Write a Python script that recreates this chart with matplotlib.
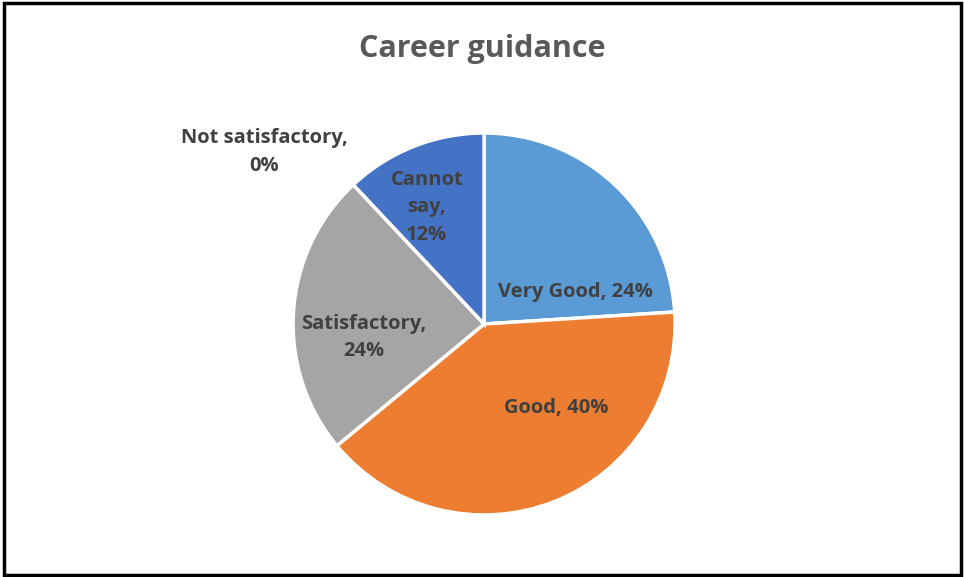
import matplotlib.pyplot as plt
from matplotlib.patches import Rectangle

categories = ["Very Good", "Good", "Satisfactory", "Not satisfactory", "Cannot say"]
values = [24, 40, 24, 0, 12]
colors = ["#5B9BD5", "#ED7D31", "#A5A5A5", "#FFC000", "#4472C4"]
label_text = ["Very Good, 24%", "Good, 40%", "Satisfactory,\n24%",
              "Not satisfactory,\n0%", "Cannot\nsay,\n12%"]
# label anchor points in pie units (radius = 1)
label_pos = [(0.48, 0.17), (0.38, -0.44), (-0.63, -0.07), (-1.15, 0.90), (-0.30, 0.61)]

plt.rcParams['font.family'] = ['Open Sans', 'DejaVu Sans']

fig = plt.figure(figsize=(9.64, 5.77), dpi=100)
ax = fig.add_axes([0.304, 0.1075, 0.3963, 0.662])
ax.pie(values, colors=colors, startangle=90, counterclock=False, radius=1,
       wedgeprops=dict(edgecolor="white", linewidth=2.5))
ax.set_xlim(-1, 1)
ax.set_ylim(-1, 1)
ax.set_aspect("equal")

for txt, (x, y) in zip(label_text, label_pos):
    ax.text(x, y, txt, ha="center", va="center", fontsize=14.5,
            fontweight="bold", color="#404040", linespacing=1.5)

fig.text(0.5, 0.915, "Career guidance", ha="center", va="center",
         fontsize=22, fontweight="bold", color="#595959")

fig.patches.append(Rectangle((0.004, 0.003), 0.993, 0.992, transform=fig.transFigure,
                             fill=False, edgecolor="black", linewidth=2.5))

fig.savefig("out.png", dpi=100)
